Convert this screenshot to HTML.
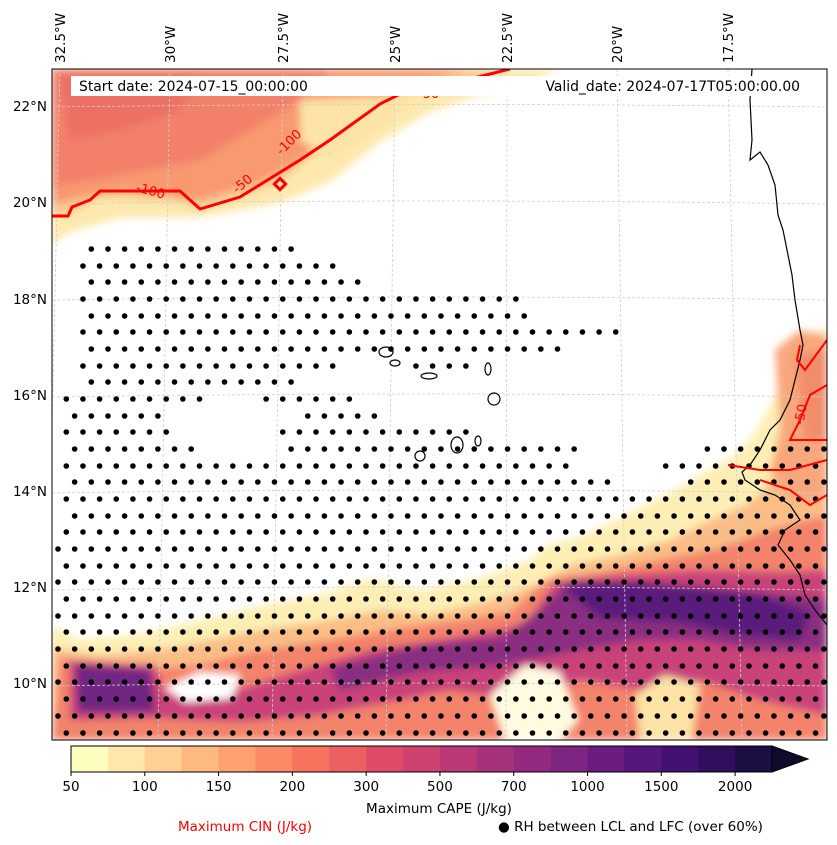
<!DOCTYPE html>
<html><head><meta charset="utf-8">
<style>
body{margin:0;background:#fff;font-family:"DejaVu Sans","Liberation Sans",sans-serif;}
svg{display:block;font-family:"DejaVu Sans","Liberation Sans",sans-serif;}
</style></head>
<body>
<svg id="chart" width="837" height="845" viewBox="0 0 837 845">
<defs>
<clipPath id="mapclip"><rect x="52" y="69" width="775" height="671"/></clipPath>
<filter id="blur" x="-10%" y="-10%" width="120%" height="120%"><feGaussianBlur stdDeviation="4"/></filter>
</defs>
<g clip-path="url(#mapclip)">
 <rect x="52" y="69" width="775" height="671" fill="#fff"/>
 <g filter="url(#blur)">
  <path d="M52,69 L560,69 L520,85 L470,98 L430,112 L380,142 L330,182 L280,203 L200,217 L120,218 L70,232 L52,245 Z" fill="#fde9ad"/>
  <path d="M52,69 L510,69 L470,82 L400,94 L380,104 L330,142 L280,182 L240,197 L200,210 L180,202 L100,197 L75,212 L52,217 Z" fill="#fcc68f"/>
  <path d="M52,69 L470,69 L400,88 L350,120 L300,160 L260,182 L200,200 L120,190 L70,200 L52,205 Z" fill="#f8996f"/>
  <path d="M52,69 L330,69 L300,100 L250,130 L200,160 L120,175 L60,185 L52,190 Z" fill="#f2806a"/>
  <path d="M60,75 L200,75 L180,110 L120,130 L70,140 Z" fill="#ec6f63"/>
  <path d="M300,100 L420,95 L380,130 L330,160 L300,140 Z" fill="#fde3a5"/>
  <path d="M52,625 L80,640 L130,635 L180,625 L250,608 L330,592 L370,578 L420,590 L480,578 L530,560 L548,545 L585,535 L625,515 L665,495 L700,475 L730,458 L750,440 L768,410 L785,375 L800,345 L827,325 L827,740 L52,740 Z" fill="#fdefb4"/>
  <path d="M52,648 L100,655 L170,648 L250,632 L330,620 L380,610 L430,615 L490,600 L535,585 L570,565 L620,555 L670,540 L710,520 L745,505 L765,490 L780,460 L800,420 L827,390 L827,740 L52,740 Z" fill="#fbbd86"/>
  <path d="M60,658 L160,668 L200,665 L250,652 L330,640 L400,628 L460,620 L510,612 L545,580 L600,572 L660,560 L720,548 L770,530 L827,515 L827,740 L52,740 Z" fill="#f3836a"/>
  <path d="M70,660 L155,665 L165,692 L230,692 L300,670 L370,650 L450,638 L525,625 L555,582 L620,575 L700,570 L780,572 L827,570 L827,715 L760,700 L700,680 L640,690 L580,680 L520,700 L450,690 L400,700 L320,715 L240,722 L160,718 L70,720 Z" fill="#c9437a"/>
  <path d="M75,665 L150,670 L155,712 L78,712 Z" fill="#6f2682"/>
  <path d="M330,668 L420,645 L500,638 L540,610 L570,580 L640,582 L720,588 L790,595 L827,600 L827,650 L760,650 L700,640 L640,640 L580,650 L500,665 L420,672 L340,690 Z" fill="#892d81"/>
  <path d="M560,585 L640,582 L760,595 L810,612 L800,640 L740,635 L680,622 L600,618 Z" fill="#5a1e7b"/>
  <path d="M165,688 L200,672 L240,675 L232,698 L185,702 Z" fill="#fff"/>
  <path d="M490,695 L525,665 L560,672 L578,720 L560,740 L505,740 Z" fill="#fffbe0"/>
  <path d="M635,695 L665,675 L700,685 L692,740 L640,740 Z" fill="#fde3a5"/>
  <path d="M775,350 L800,330 L827,335 L827,500 L790,500 L770,470 L780,430 Z" fill="#f8a77b"/>
  <path d="M795,355 L827,350 L827,440 L805,440 Z" fill="#f28d6a"/>
 </g>
 <g stroke="#cfcfcf" stroke-width="0.8" stroke-dasharray="3,2" fill="none">
  <path d="M52,107 Q440,102 827,107"/>
  <path d="M52,204 Q440,198 827,204"/>
  <path d="M52,300 Q440,294 827,300"/>
  <path d="M52,397 Q440,391 827,397"/>
  <path d="M52,493 Q440,487 827,493"/>
  <path d="M52,590 Q440,584 827,590"/>
  <path d="M52,686 Q440,680 827,686"/>
  <line x1="60" y1="69" x2="45" y2="740"/>
  <line x1="170" y1="69" x2="158" y2="740"/>
  <line x1="283" y1="69" x2="272" y2="740"/>
  <line x1="395" y1="69" x2="386" y2="740"/>
  <line x1="507" y1="69" x2="506" y2="740"/>
  <line x1="617" y1="69" x2="627" y2="740"/>
  <line x1="728" y1="69" x2="742" y2="740"/>
 </g>
 <g id="dots"></g>
 <g stroke="#000" stroke-width="1.2" fill="none">
  <path d="M752,69 L750,100 L752,140 L750,160 L760,152 L768,165 L775,185 L778,215 L783,230 L787,250 L792,275 L795,300 L800,330 L803,345 L800,360 L795,380 L790,400 L780,420 L770,430 L760,450 L750,465 L742,472 L745,480 L760,490 L775,495 L790,505 L800,520 L785,530 L778,545 L790,560 L800,575 L805,595 L815,610 L827,625"/>
  <ellipse cx="386" cy="352" rx="7" ry="5"/><ellipse cx="395" cy="363" rx="5" ry="3"/>
  <ellipse cx="429" cy="376" rx="8" ry="3"/><ellipse cx="488" cy="369" rx="3" ry="6"/>
  <ellipse cx="494" cy="399" rx="6" ry="6"/><ellipse cx="457" cy="445" rx="6" ry="8"/>
  <ellipse cx="478" cy="441" rx="3" ry="5"/><ellipse cx="420" cy="456" rx="5" ry="5"/>
 </g>
 <g stroke="#ff0000" stroke-width="3" fill="none">
  <path d="M52,216 L68,216 L72,207 L90,200 L100,191 L180,191 L200,209 L240,197 L300,160 L330,140 L380,104 L400,94 L470,79 L510,69"/>
  <rect x="276" y="180" width="8" height="8" transform="rotate(45 280 184)"/>
  <path d="M800,345 L797,360 L805,370 L827,340" stroke-width="2"/>
  <path d="M827,385 L810,395 L800,420 L790,440 L827,440" stroke-width="2"/>
  <path d="M728,465 L760,470 L790,470 L827,460" stroke-width="2"/>
  <path d="M760,480 L790,490 L810,505 L827,495" stroke-width="2"/>
 </g>
 <g fill="#ff0000" font-size="13">
  <text x="136" y="195" transform="rotate(15 150 190)">-100</text>
  <text x="232" y="190" transform="rotate(-40 240 185)">-50</text>
  <text x="275" y="150" transform="rotate(-45 285 145)">-100</text>
  <text x="418" y="98">-50</text>
  <text x="790" y="420" transform="rotate(-80 800 415)">-50</text>
 </g>
 <rect x="71" y="76" width="737" height="20" fill="#fff"/>
 <text x="79" y="91" font-size="13.9">Start date: 2024-07-15_00:00:00</text>
 <text x="800" y="91" font-size="13.9" text-anchor="end">Valid_date: 2024-07-17T05:00:00.00</text>
</g>
<rect x="52" y="69" width="775" height="671" fill="none" stroke="#000" stroke-width="1"/>
<g font-size="13.5">
 <text x="47" y="111" text-anchor="end">22°N</text>
 <text x="47" y="207" text-anchor="end">20°N</text>
 <text x="47" y="304" text-anchor="end">18°N</text>
 <text x="47" y="400" text-anchor="end">16°N</text>
 <text x="47" y="496" text-anchor="end">14°N</text>
 <text x="47" y="592" text-anchor="end">12°N</text>
 <text x="47" y="688" text-anchor="end">10°N</text>
</g>
<g font-size="13.5">
 <text transform="translate(65,63) rotate(-90)">32.5°W</text>
 <text transform="translate(175,63) rotate(-90)">30°W</text>
 <text transform="translate(288,63) rotate(-90)">27.5°W</text>
 <text transform="translate(400,63) rotate(-90)">25°W</text>
 <text transform="translate(512,63) rotate(-90)">22.5°W</text>
 <text transform="translate(622,63) rotate(-90)">20°W</text>
 <text transform="translate(733,63) rotate(-90)">17.5°W</text>
</g>
<g id="cbar"></g>
<text x="439" y="813" font-size="13.5" text-anchor="middle">Maximum CAPE (J/kg)</text>
<text x="245" y="831" font-size="13.5" fill="#ff0000" text-anchor="middle">Maximum CIN (J/kg)</text>
<text x="498" y="831" font-size="13.5">● RH between LCL and LFC (over 60%)</text>
</svg>
<script>
const cbarTicks = ["50","100","150","200","300","500","700","1000","1500","2000"];
const levels = [50,75,100,125,150,175,200,250,300,400,500,600,700,850,1000,1250,1500,1750,2000,2250];
const dotRows = [249,266,282,299,316,332,349,366,382,399,416,432,449,466,482,499,516,532,549,566,582,599,616,632,649,666,682,699,716,733];
const dotSegs = [[[90,300]],[[80,340]],[[80,360]],[[75,520]],[[75,540]],[[75,620]],[[75,560]],[[80,340],[400,480]],[[80,300]],[[60,200],[260,350]],[[60,160],[300,380]],[[60,180],[280,480]],[[60,200],[280,580],[700,827]],[[60,580],[650,827]],[[60,620],[680,827]],[[60,827]],[[60,827]],[[55,827]],[[55,827]],[[55,827]],[[55,827]],[[55,827]],[[55,827]],[[55,827]],[[55,827]],[[55,827]],[[55,827]],[[55,827]],[[55,827]],[[55,827]]];
const NS='http://www.w3.org/2000/svg';
const magma=[[0,'#000004'],[0.1,'#140e36'],[0.2,'#3b0f70'],[0.3,'#641a80'],[0.4,'#8c2981'],[0.5,'#b73779'],[0.6,'#de4968'],[0.7,'#f7705c'],[0.8,'#fe9f6d'],[0.9,'#fecf92'],[1,'#fcfdbf']];
function hx(h){return [1,3,5].map(i=>parseInt(h.substr(i,2),16));}
function cmap(t){for(let i=0;i<magma.length-1;i++){const a=magma[i],b=magma[i+1];if(t>=a[0]&&t<=b[0]){const f=(t-a[0])/(b[0]-a[0]);const c1=hx(a[1]),c2=hx(b[1]);return 'rgb('+c1.map((v,k)=>Math.round(v+(c2[k]-v)*f)).join(',')+')';}}return magma[magma.length-1][1];}
const dg=document.getElementById('dots');
dotRows.forEach((y,r)=>{
  const off=(r%2===0)?0:8.3;
  for(let x=58+off;x<827;x+=16.65){
    if(!dotSegs[r].some(s=>x>=s[0]&&x<=s[1]))continue;
    const c=document.createElementNS(NS,'circle');
    c.setAttribute('cx',x);c.setAttribute('cy',y);c.setAttribute('r',2.8);c.setAttribute('fill','#000');
    
    
    dg.appendChild(c);
  }
});
const cb=document.getElementById('cbar');
const x0=71,x1=772,y0=746,h=26;
const nb=levels.length-1;
const bw=(x1-x0)/nb;
function xOf(i){return x0+i*bw;}
for(let i=0;i<nb;i++){
  const r=document.createElementNS(NS,'rect');
  r.setAttribute('x',xOf(i));r.setAttribute('y',y0);r.setAttribute('width',bw+0.5);r.setAttribute('height',h);
  r.setAttribute('fill',cmap(1-i*0.88/(nb-1)));
  
  
  cb.appendChild(r);
}
const tri=document.createElementNS(NS,'polygon');
tri.setAttribute('points',`${x1},${y0} ${x1+36},${y0+h/2} ${x1},${y0+h}`);
tri.setAttribute('fill',cmap(0.08));tri.setAttribute('stroke','#000');tri.setAttribute('stroke-width','1');


cb.appendChild(tri);
const fr=document.createElementNS(NS,'rect');
fr.setAttribute('x',x0);fr.setAttribute('y',y0);fr.setAttribute('width',x1-x0);fr.setAttribute('height',h);
fr.setAttribute('fill','none');fr.setAttribute('stroke','#000');


cb.appendChild(fr);
cbarTicks.forEach((t,k)=>{
  const i=levels.indexOf(+t);const x=xOf(i);
  const l=document.createElementNS(NS,'line');
  l.setAttribute('x1',x);l.setAttribute('x2',x);l.setAttribute('y1',y0+h);l.setAttribute('y2',y0+h+4);l.setAttribute('stroke','#000');
  
  
  cb.appendChild(l);
  const tx=document.createElementNS(NS,'text');
  tx.setAttribute('x',x);tx.setAttribute('y',y0+h+19);tx.setAttribute('text-anchor','middle');tx.setAttribute('font-size','13.5');
  tx.textContent=t;
  
  
  cb.appendChild(tx);
});
</script>
</body></html>
